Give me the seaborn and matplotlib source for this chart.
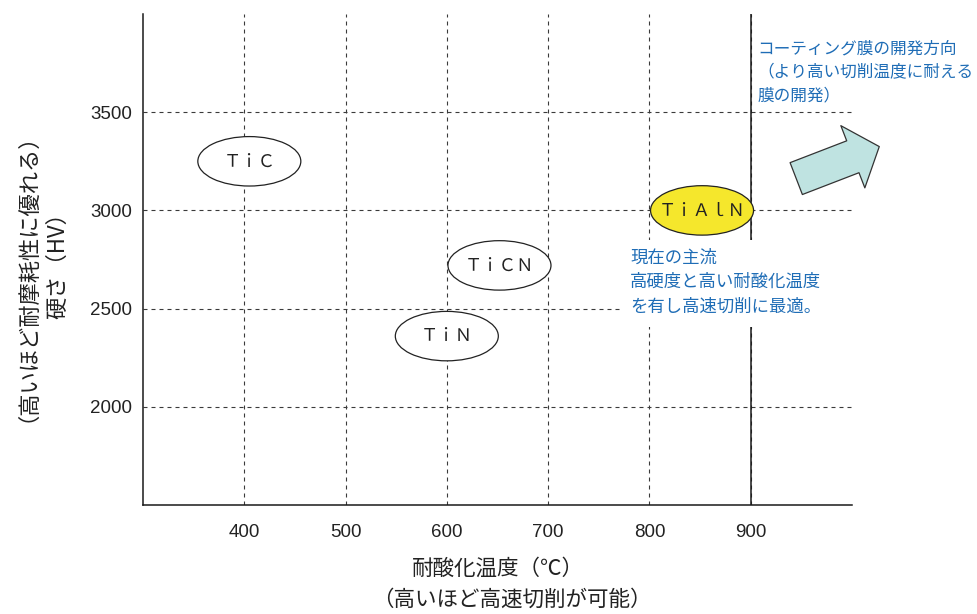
import matplotlib
matplotlib.use("Agg")
import matplotlib.pyplot as plt
import seaborn as sns
import pandas as pd
from matplotlib.path import Path
from matplotlib.patches import Rectangle
from matplotlib.transforms import Affine2D

# Coating films: oxidation resistance temperature vs. hardness
coatings = ["ＴｉＣ", "ＴｉＣＮ", "ＴｉＮ", "ＴｉＡｌＮ"]
oxidation_temp = [405, 652, 600, 852]      # ℃
hardness = [3250, 2720, 2360, 3000]        # HV
fill_colors = ["white", "white", "white", "#f5e72c"]

x_ticks = [400, 500, 600, 700, 800, 900]
y_ticks = [2000, 2500, 3000, 3500]

JP = ["Noto Sans CJK JP", "DejaVu Sans"]
NUM = ["Liberation Sans", "DejaVu Sans"]
BLUE = "#1f6db6"
INK = "#222222"

sns.set_theme(style="white")
plt.rcParams["font.family"] = JP

df = pd.DataFrame({"coating": coatings, "temp": oxidation_temp, "hv": hardness})

fig = plt.figure(figsize=(9.78, 6.14), dpi=100)
ax = fig.add_axes([0.1462, 0.1775, 0.7249, 0.7997])
ax.set_xlim(300, 1000)
ax.set_ylim(1500, 4000)

# dashed reference grid
ax.set_xticks(x_ticks)
ax.set_yticks(y_ticks)
ax.grid(True, linestyle=(0, (3.6, 3.6)), color="#3a3a3a", linewidth=0.8)
ax.set_axisbelow(True)
ax.axvline(900, color="#1a1a1a", linewidth=1.1, zorder=2)

# oval markers for each coating
oval = Path.unit_circle().transformed(Affine2D().scale(1.0, 0.48))
sns.scatterplot(data=df, x="temp", y="hv", hue="coating",
                palette=dict(zip(coatings, fill_colors)),
                marker=oval, s=5500, edgecolor=INK, linewidth=0.9,
                legend=False, ax=ax, zorder=3)
for name, x, y in zip(coatings, oxidation_temp, hardness):
    ax.text(x, y, name, ha="center", va="center", fontsize=12.5,
            color=INK, family=JP, zorder=4)
ax.set_xlabel("")
ax.set_ylabel("")

# spines
for side in ("top", "right"):
    ax.spines[side].set_visible(False)
for side in ("left", "bottom"):
    ax.spines[side].set_color("#1a1a1a")
    ax.spines[side].set_linewidth(1.1)

ax.tick_params(axis="both", length=0, labelsize=13.5, colors=INK)
ax.tick_params(axis="x", pad=14)
ax.tick_params(axis="y", pad=8)
for lab in ax.get_xticklabels() + ax.get_yticklabels():
    lab.set_family(NUM)

# axis titles, two lines each
fig.text(0.5092, 0.0733, "耐酸化温度（℃）", ha="center", va="center",
         fontsize=15.5, color=INK)
fig.text(0.5230, 0.0228, "（高いほど高速切削が可能）", ha="center", va="center",
         fontsize=15.5, color=INK)
fig.text(0.0165, 0.5668, "（高いほど耐摩耗性に優れる）", ha="center", va="center",
         rotation=90, fontsize=16, color=INK)
fig.text(0.0590, 0.5765, "硬さ（HV）", ha="center", va="center",
         rotation=90, fontsize=16, color=INK)

# annotations
ax.text(907, 3865, "コーティング膜の開発方向\n（より高い切削温度に耐える\n膜の開発）",
        ha="left", va="top", fontsize=12, color=BLUE, linespacing=1.48,
        zorder=5, clip_on=False)

ax.add_patch(Rectangle((771, 2408), 229, 442, facecolor="white",
                       edgecolor="none", zorder=4, clip_on=False))
ax.text(781, 2805, "現在の主流\n高硬度と高い耐酸化温度\nを有し高速切削に最適。",
        ha="left", va="top", fontsize=12.5, color=BLUE, linespacing=1.46,
        zorder=5)

ax.annotate("", xy=(1027, 3325), xytext=(945, 3162),
            arrowprops=dict(arrowstyle="simple,head_length=1.7,head_width=4.0,tail_width=2.05",
                            facecolor="#bfe3e1", edgecolor="#333333", linewidth=0.9,
                            shrinkA=0, shrinkB=0),
            annotation_clip=False, zorder=5)

fig.savefig("out.png", dpi=100, facecolor="white")
